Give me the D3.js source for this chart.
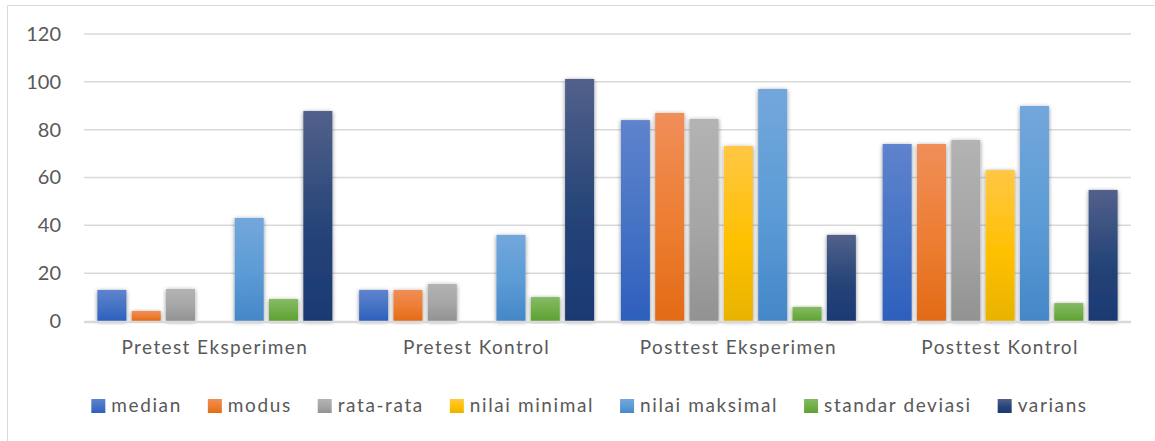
<!DOCTYPE html>
<html>
<head>
<meta charset="utf-8">
<script src="https://cdn.jsdelivr.net/npm/d3@7"></script>
<style>
  body { margin: 0; background: #fff; }
  svg { display: block; }
  text { font-family: Lato, "Open Sans", sans-serif; fill: #595959; }
</style>
</head>
<body>
<script>
const categories = ["Pretest Eksperimen", "Pretest Kontrol", "Posttest Eksperimen", "Posttest Kontrol"];
const seriesNames = ["median", "modus", "rata-rata", "nilai minimal", "nilai maksimal", "standar deviasi", "varians"];

// one array per series, one value per category
const median = [13, 13, 84, 74];
const modus = [4.2, 13, 87, 74];
const rataRata = [13.4, 15.5, 84.5, 75.7];
const nilaiMinimal = [0, 0, 73.2, 63.1];
const nilaiMaksimal = [43.1, 36, 97, 89.9];
const standarDeviasi = [9.2, 10, 5.9, 7.5];
const varians = [87.8, 101.2, 36, 54.8];

const yTicks = [0, 20, 40, 60, 80, 100, 120];

const seriesValues = [median, modus, rataRata, nilaiMinimal, nilaiMaksimal, standarDeviasi, varians];

// gradient colours: [top, middle, bottom]
const colors = [
  ["#5f83cd", "#4472c4", "#2d5fbd"],
  ["#f08e59", "#ed7d31", "#e36a16"],
  ["#b3b3b3", "#a5a5a5", "#929292"],
  ["#ffc745", "#ffc000", "#e8b300"],
  ["#73a7dc", "#5b9bd5", "#4487c8"],
  ["#85bb65", "#70ad47", "#5da232"],
  ["#52618b", "#264478", "#1a3972"]
];

const width = 1155;
const height = 441;
const marginLeft = 84;
const marginRight = 24;
const marginTop = 34;
const plotBottom = 321;

const rows = categories.map((c, i) => ({
  category: c,
  values: seriesNames.map((s, j) => ({ key: s, idx: j, value: seriesValues[j][i] }))
}));

const svg = d3.create("svg")
  .attr("width", width)
  .attr("height", height);
document.body.appendChild(svg.node());

const defs = svg.append("defs");
colors.forEach((c, i) => {
  const g = defs.append("linearGradient")
    .attr("id", "grad" + i)
    .attr("x1", 0).attr("y1", 0).attr("x2", 0).attr("y2", 1);
  g.append("stop").attr("offset", "0%").attr("stop-color", c[0]);
  g.append("stop").attr("offset", "55%").attr("stop-color", c[1]);
  g.append("stop").attr("offset", "100%").attr("stop-color", c[2]);
});

const shadow = defs.append("filter")
  .attr("id", "shadow")
  .attr("x", "-40%").attr("y", "-10%")
  .attr("width", "180%").attr("height", "120%");
shadow.append("feDropShadow")
  .attr("dx", 0).attr("dy", 1)
  .attr("stdDeviation", 2.2)
  .attr("flood-color", "#000")
  .attr("flood-opacity", 0.45);

// chart frame
svg.append("path")
  .attr("d", `M7.5,${height} V5.5 H${width}`)
  .attr("fill", "none")
  .attr("stroke", "#d9d9d9")
  .attr("stroke-width", 1);

const x0 = d3.scaleBand()
  .domain(categories)
  .range([marginLeft, width - marginRight]);

const x1 = d3.scaleBand()
  .domain(seriesNames)
  .range([0, x0.bandwidth()])
  .paddingInner(0.155)
  .paddingOuter(0.39);

const y = d3.scaleLinear()
  .domain([0, 120])
  .range([plotBottom, marginTop]);

// gridlines
svg.append("g")
  .selectAll("line")
  .data(yTicks.filter(d => d > 0))
  .join("line")
  .attr("x1", marginLeft)
  .attr("x2", width - marginRight)
  .attr("y1", d => y(d))
  .attr("y2", d => y(d))
  .attr("stroke", "#d9d9d9")
  .attr("stroke-width", 1.5);

// y axis labels
const yAxis = svg.append("g")
  .attr("transform", `translate(${marginLeft},0)`)
  .call(d3.axisLeft(y).tickValues(yTicks).tickSize(0).tickPadding(23));
yAxis.select(".domain").remove();
yAxis.selectAll("text")
  .attr("font-family", "Lato, sans-serif")
  .attr("font-size", 20)
  .attr("fill", "#595959");

// bars
const groups = svg.append("g")
  .selectAll("g")
  .data(rows)
  .join("g")
  .attr("transform", d => `translate(${x0(d.category)},0)`);

groups.selectAll("rect")
  .data(d => d.values.filter(v => v.value > 0))
  .join("rect")
  .attr("x", d => x1(d.key))
  .attr("width", x1.bandwidth())
  .attr("y", d => y(d.value))
  .attr("height", d => y(0) - y(d.value))
  .attr("fill", d => `url(#grad${d.idx})`)
  .attr("filter", "url(#shadow)");

// x axis line
svg.append("line")
  .attr("x1", marginLeft)
  .attr("x2", width - marginRight)
  .attr("y1", y(0) + 1)
  .attr("y2", y(0) + 1)
  .attr("stroke", "#d9d9d9")
  .attr("stroke-width", 2.5);

// x axis labels
const xAxis = svg.append("g")
  .attr("transform", `translate(0,${plotBottom})`)
  .call(d3.axisBottom(x0).tickSize(0).tickPadding(20));
xAxis.select(".domain").remove();
xAxis.selectAll("text")
  .attr("font-family", "Lato, sans-serif")
  .attr("font-size", 19)
  .attr("letter-spacing", 1.4)
  .attr("fill", "#595959");

// legend
const legend = svg.append("g");
const items = legend.selectAll("g")
  .data(seriesNames)
  .join("g");
items.append("rect")
  .attr("width", 14)
  .attr("height", 14)
  .attr("y", -13)
  .attr("fill", (d, i) => `url(#grad${i})`);
items.append("text")
  .attr("x", 20)
  .attr("font-size", 19)
  .attr("letter-spacing", 1.6)
  .text(d => d);

let cx = 0;
items.each(function () {
  const w = 20 + d3.select(this).select("text").node().getComputedTextLength();
  d3.select(this).attr("transform", `translate(${cx},0)`);
  cx += w + 26;
});
const legendWidth = cx - 26;
legend.attr("transform", `translate(${589.5 - legendWidth / 2},412)`);
</script>
</body>
</html>
